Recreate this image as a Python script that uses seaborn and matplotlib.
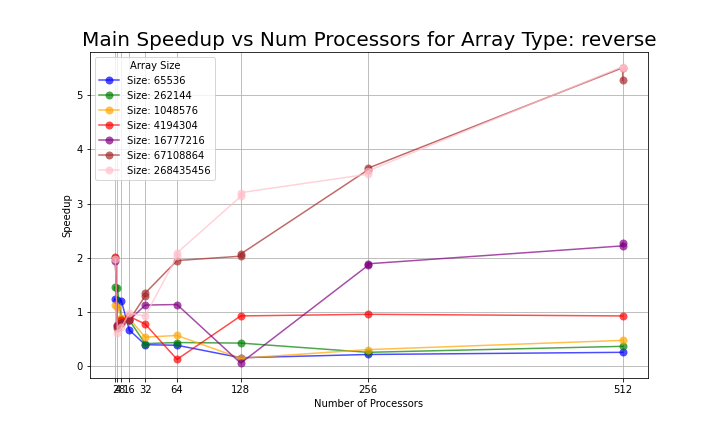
import matplotlib
matplotlib.use("Agg")
import matplotlib.pyplot as plt
import seaborn as sns
import pandas as pd

sizes = [65536, 262144, 1048576, 4194304, 16777216, 67108864, 268435456]
colors = ["blue", "green", "orange", "red", "purple", "brown", "pink"]
proc_ticks = [2, 4, 8, 16, 32, 64, 128, 256, 512]

procs_65536 = [2, 4, 8, 16, 32, 64, 128, 256, 512]
speedup_65536 = [1.24, 1.22, 1.21, 0.67, 0.40, 0.39, 0.16, 0.22, 0.26]

procs_262144 = [2, 4, 8, 16, 32, 64, 128, 256, 512]
speedup_262144 = [1.46, 1.45, 0.88, 0.85, 0.42, 0.44, 0.43, 0.26, 0.37]

procs_1048576 = [2, 4, 8, 16, 32, 64, 128, 256, 512]
speedup_1048576 = [1.13, 1.10, 0.90, 0.88, 0.54, 0.57, 0.15, 0.31, 0.48]

procs_4194304 = [2, 4, 8, 16, 32, 64, 128, 256, 512]
speedup_4194304 = [2.02, 0.76, 0.85, 0.92, 0.78, 0.13, 0.93, 0.96, 0.93]

procs_16777216 = [2, 4, 8, 16, 32, 64, 128, 256, 256, 512, 512]
speedup_16777216 = [1.95, 0.75, 0.80, 0.85, 1.13, 1.14, 0.06, 1.86, 1.89, 2.22, 2.27]

procs_67108864 = [2, 4, 8, 16, 32, 32, 64, 128, 128, 256, 256, 512, 512]
speedup_67108864 = [2.00, 0.70, 0.80, 0.85, 1.30, 1.35, 1.95, 2.03, 2.07, 3.62, 3.65, 5.50, 5.27]

procs_268435456 = [2, 4, 8, 16, 32, 64, 64, 128, 128, 256, 256, 512, 512]
speedup_268435456 = [1.98, 0.61, 0.72, 0.98, 0.93, 2.03, 2.09, 3.13, 3.20, 3.54, 3.60, 5.52, 5.50]

procs_all = [procs_65536, procs_262144, procs_1048576, procs_4194304,
             procs_16777216, procs_67108864, procs_268435456]
speedup_all = [speedup_65536, speedup_262144, speedup_1048576, speedup_4194304,
               speedup_16777216, speedup_67108864, speedup_268435456]

frames = []
for s, p, v in zip(sizes, procs_all, speedup_all):
    frames.append(pd.DataFrame({"Number of Processors": p, "Speedup": v,
                                "Array Size": f"Size: {s}"}))
df = pd.concat(frames, ignore_index=True)

labels = [f"Size: {s}" for s in sizes]
palette = dict(zip(labels, colors))

fig, ax = plt.subplots(figsize=(10, 6), dpi=72)
fig.subplots_adjust(left=0.125, right=0.9, top=0.88, bottom=0.125)
sns.lineplot(data=df, x="Number of Processors", y="Speedup", hue="Array Size",
             hue_order=labels, palette=palette, estimator=None, sort=False,
             marker="o", markersize=8, markeredgewidth=0, alpha=0.7, ax=ax)
ax.set_xticks(proc_ticks)
ax.set_xticklabels([str(t) for t in proc_ticks])
ax.grid(True)
ax.set_title("Main Speedup vs Num Processors for Array Type: reverse", fontsize=20)
ax.legend(title="Array Size", loc="upper left")
fig.savefig("out.png", dpi=72)
